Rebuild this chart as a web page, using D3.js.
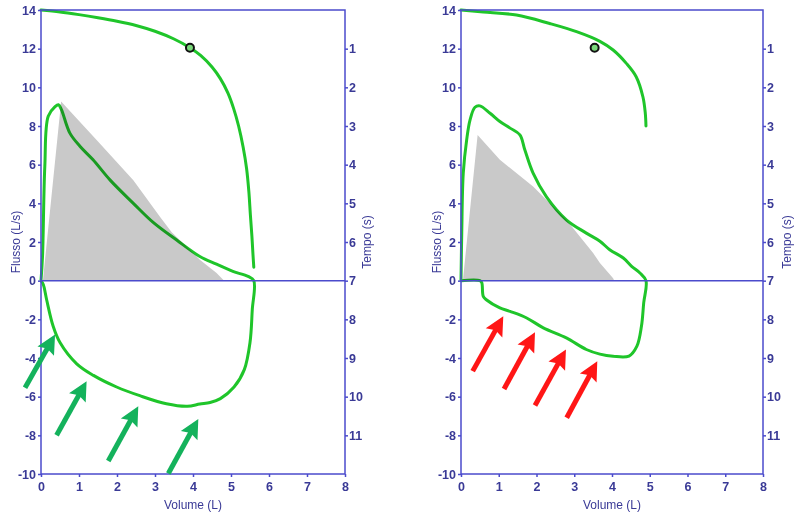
<!DOCTYPE html>
<html><head><meta charset="utf-8">
<script src="https://cdn.jsdelivr.net/npm/d3@7"></script>
<style>body{margin:0;background:#fff}svg{display:block}text{font-family:"Liberation Sans",Arial,sans-serif}</style>
</head><body><svg id="c" width="811" height="519"></svg>
<script>
// ---- data ----
const volumeTicks = [0,1,2,3,4,5,6,7,8];
const flowTicks = [14,12,10,8,6,4,2,0,-2,-4,-6,-8,-10];
const tempoTicks = [1,2,3,4,5,6,7,8,9,10,11];

// left panel (normal)
const leftTimeCurve = [[0,14],[0.5,13.9],[1,13.76],[1.5,13.6],[2,13.42],[2.5,13.2],[3,12.9],[3.5,12.5],[3.92,12.05],[4.2,11.65],[4.5,11.05],[4.72,10.45],[4.92,9.7],[5.07,8.9],[5.2,8.0],[5.32,6.9],[5.41,5.8],[5.47,4.6],[5.51,3.4],[5.55,2.3],[5.58,1.3],[5.6,0.7]];
const leftMarker = [3.92,12.05];
const leftLoop = [[0,0],[0.04,1.25],[0.1,5.9],[0.19,8.5],[0.37,9.0],[0.46,9.1],[0.54,8.83],[0.76,7.63],[1.03,6.94],[1.37,6.25],[1.82,5.2],[2.43,4.0],[2.96,3.0],[3.57,2.1],[4.18,1.25],[4.62,0.85],[5.05,0.48],[5.45,0.22],[5.6,0],
  [5.56,-1.5],[5.5,-3.2],[5.35,-4.6],[5.08,-5.5],[4.72,-6.1],[4.45,-6.3],[4.18,-6.38],[3.85,-6.5],[3.3,-6.37],[2.6,-5.95],[1.99,-5.5],[1.38,-4.9],[0.94,-4.3],[0.5,-3.2],[0.32,-2.36],[0.15,-1.0],[0.06,-0.2],[0,0]];
const leftPredicted = [[0.05,0],[0.53,9.27],[1.5,7.2],[2.43,5.2],[3.13,3.3],[3.44,2.5],[3.83,1.77],[4.18,1.08],[4.62,0.4],[4.82,0]];
const leftArrows = [[[-0.42,-5.54],[0.37,-2.79]],[[0.41,-8.0],[1.2,-5.2]],[[1.77,-9.33],[2.56,-6.5]],[[3.35,-9.97],[4.14,-7.15]]];

// right panel (obstruction)
const rightTimeCurve = [[0,14],[0.59,13.9],[1.47,13.74],[2.35,13.3],[3.06,12.88],[3.68,12.38],[4.03,11.93],[4.38,11.24],[4.64,10.55],[4.82,9.5],[4.88,8.7],[4.9,8.0]];
const rightMarker = [3.54,12.05];
const rightLoop = [[0,0],[0.02,2.48],[0.06,5.56],[0.15,7.28],[0.24,8.32],[0.37,8.97],[0.5,9.04],[0.77,8.66],[1.03,8.23],[1.3,7.89],[1.56,7.54],[1.69,6.77],[1.91,5.56],[2.26,4.35],[2.79,3.15],[3.32,2.46],[3.68,2.04],[3.94,1.6],[4.3,1.17],[4.52,0.74],[4.74,0.4],[4.9,0],
  [4.84,-1.15],[4.78,-2.36],[4.66,-3.39],[4.45,-3.9],[4.03,-3.91],[3.68,-3.8],[3.32,-3.56],[2.79,-2.96],[2.18,-2.44],[1.74,-1.93],[1.3,-1.59],[1.03,-1.41],[0.68,-1.0],[0.59,-0.81],[0.55,-0.1],[0.5,0],[0,0]];
const rightPredicted = [[0.05,0],[0.44,7.54],[1.03,6.25],[1.91,4.87],[2.79,3.15],[3.5,1.43],[3.68,0.91],[4.03,0.13],[4.06,0]];
const rightArrows = [[[0.31,-4.68],[1.12,-1.84]],[[1.14,-5.6],[1.96,-2.67]],[[1.96,-6.46],[2.78,-3.56]],[[2.8,-7.09],[3.61,-4.17]]];

const panels = [
  {x0:41,x1:345,time:leftTimeCurve,marker:leftMarker,loop:leftLoop,pred:leftPredicted,arrows:leftArrows,arrowColor:"#14b25c",flowLabelX:16,tempoLabelX:367},
  {x0:461,x1:763,time:rightTimeCurve,marker:rightMarker,loop:rightLoop,pred:rightPredicted,arrows:rightArrows,arrowColor:"#ff1616",flowLabelX:437,tempoLabelX:787}
];

const svg = d3.select("#c");
const axisColor = "#4b4bcc", textColor = "#3a3a96", green = "#1fc52a";
const yTop = 10, yBot = 474;

panels.forEach(p => {
  const x = d3.scaleLinear().domain([0,8]).range([p.x0,p.x1]);
  const y = d3.scaleLinear().domain([-10,14]).range([yBot,yTop]);
  const t = d3.scaleLinear().domain([0,12]).range([yTop,yBot]);
  const g = svg.append("g");

  const line = d3.line().x(d=>x(d[0])).y(d=>y(d[1])).curve(d3.curveCatmullRom.alpha(0.5));
  g.append("path").attr("d", line(p.loop)).attr("fill","none").attr("stroke",green).attr("stroke-width",3).attr("stroke-linejoin","round");
  g.append("path").attr("d", line(p.time)).attr("fill","none").attr("stroke",green).attr("stroke-width",3).attr("stroke-linecap","round");
  const area = d3.area().x(d=>x(d[0])).y0(y(0)).y1(d=>y(d[1]));
  g.append("path").attr("d", area(p.pred)).attr("fill","#c9c9c9").style("mix-blend-mode","multiply");

  g.append("rect").attr("x",x(0)).attr("y",y(14)).attr("width",x(8)-x(0)).attr("height",y(-10)-y(14))
    .attr("fill","none").attr("stroke",axisColor).attr("stroke-width",1.5);
  g.append("line").attr("x1",x(0)).attr("x2",x(8)).attr("y1",y(0)).attr("y2",y(0)).attr("stroke",axisColor).attr("stroke-width",1.5);

  const fmt = d => String(d);
  const styleAxis = sel => {
    sel.select(".domain").remove();
    sel.selectAll(".tick line").attr("stroke",axisColor).attr("stroke-width",1.5);
    sel.selectAll(".tick text").attr("fill",textColor).style("font-size","12.5px").style("font-weight","bold").style("font-family","'Liberation Sans',Arial,sans-serif");
  };
  g.append("g").attr("transform",`translate(${x(0)},0)`).call(d3.axisLeft(y).tickValues(flowTicks).tickFormat(fmt).tickSize(3).tickPadding(2)).call(styleAxis);
  g.append("g").attr("transform",`translate(0,${y(-10)})`).call(d3.axisBottom(x).tickValues(volumeTicks).tickFormat(fmt).tickSize(3).tickPadding(5)).call(styleAxis);
  g.append("g").attr("transform",`translate(${x(8)},0)`).call(d3.axisRight(t).tickValues(tempoTicks).tickFormat(fmt).tickSize(3).tickPadding(1)).call(styleAxis);

  g.append("text").attr("x",(p.x0+p.x1)/2).attr("y",509).attr("text-anchor","middle").attr("fill",textColor).style("font-size","12px").text("Volume (L)");
  g.append("text").attr("transform",`translate(${p.flowLabelX},${(yTop+yBot)/2}) rotate(-90)`).attr("text-anchor","middle").attr("dy","0.35em").attr("fill",textColor).style("font-size","12px").text("Flusso (L/s)");
  g.append("text").attr("transform",`translate(${p.tempoLabelX},${(yTop+yBot)/2}) rotate(-90)`).attr("text-anchor","middle").attr("dy","0.35em").attr("fill",textColor).style("font-size","12px").text("Tempo (s)");

  g.append("circle").attr("cx",x(p.marker[0])).attr("cy",y(p.marker[1])).attr("r",4).attr("fill","#7ad87a").attr("stroke","#111").attr("stroke-width",2);

  p.arrows.forEach(a => {
    const x1 = x(a[0][0]), y1 = y(a[0][1]), x2 = x(a[1][0]), y2 = y(a[1][1]);
    const dx = x2-x1, dy = y2-y1, L = Math.hypot(dx,dy), ux = dx/L, uy = dy/L;
    const hl = 19, hw = 9.5, notch = 3;
    const bx = x2-ux*hl, by = y2-uy*hl;
    g.append("line").attr("x1",x1).attr("y1",y1).attr("x2",bx+ux*notch+ux).attr("y2",by+uy*notch+uy).attr("stroke",p.arrowColor).attr("stroke-width",5);
    g.append("path").attr("d",`M${x2},${y2}L${bx-uy*hw},${by+ux*hw}L${bx+ux*notch},${by+uy*notch}L${bx+uy*hw},${by-ux*hw}Z`).attr("fill",p.arrowColor);
  });
});
</script></body></html>
